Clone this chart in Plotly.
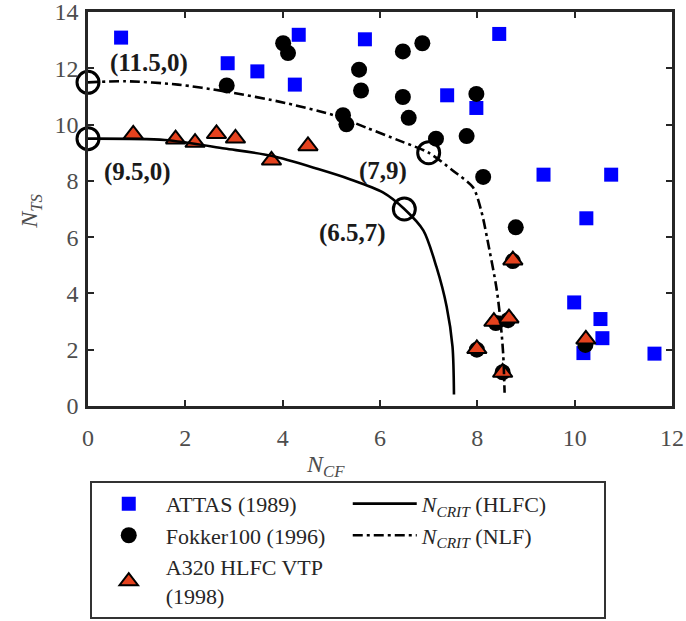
import plotly.graph_objects as go

# ---- flight-test transition data (N_CF, N_TS) ----
attas_ncf = [0.68, 2.87, 3.48, 4.33, 4.25, 5.69, 8.45, 7.38, 7.98, 9.36, 10.75,
             10.24, 9.99, 10.53, 10.57, 10.18, 11.64]
attas_nts = [13.09, 12.18, 11.89, 13.19, 11.42, 13.03, 13.22, 11.04, 10.59, 8.22, 8.22,
             6.67, 3.68, 3.09, 2.41, 1.88, 1.86]

fokker_ncf = [4.01, 4.11, 2.85, 5.24, 5.31, 5.57, 5.61, 6.47, 6.87, 6.47, 6.59, 7.15,
              7.78, 7.98, 8.12, 8.79, 7.99, 8.52, 8.73, 8.38, 8.63, 10.22]
fokker_nts = [12.89, 12.54, 11.39, 10.33, 10.01, 11.95, 11.21, 12.60, 12.89, 10.98, 10.24, 9.50,
              9.59, 11.09, 8.14, 6.35, 2.00, 1.20, 5.15, 2.95, 3.05, 2.17]

a320_ncf = [0.93, 1.80, 2.20, 2.64, 3.03, 3.77, 4.52, 8.73, 8.34, 8.65, 7.99, 8.52, 10.23]
a320_nts = [9.65, 9.48, 9.36, 9.67, 9.51, 8.73, 9.24, 5.18, 3.00, 3.12, 2.03, 1.19, 2.37]

# ---- critical N-factor envelopes ----
hlfc_ncf = [0.0, 1.58, 2.81, 3.77, 4.73, 5.38, 6.06, 6.50, 6.89, 7.16, 7.37, 7.49, 7.52]
hlfc_nts = [9.50, 9.45, 9.15, 8.89, 8.42, 8.06, 7.59, 7.00, 6.24, 4.94, 3.53, 2.11, 0.41]

nlf_ncf = [0.0, 0.76, 1.85, 2.81, 4.05, 5.11, 5.72, 6.41, 7.00, 7.50, 7.91, 8.08, 8.25,
           8.39, 8.46, 8.53, 8.56]
nlf_nts = [11.50, 11.54, 11.42, 11.18, 10.77, 10.30, 9.89, 9.42, 9.00, 8.36, 7.77, 6.94, 5.53,
           4.23, 3.29, 1.88, 0.47]

# ---- highlighted envelope points and their labels ----
crit_ncf = [0.0, 0.0, 7.0, 6.5]
crit_nts = [11.5, 9.5, 9.0, 7.0]
crit_labels = ["(11.5,0)", "(9.5,0)", "(7,9)", "(6.5,7)"]
label_shift = [(61, 19), (49, -33), (-46, -18), (-52, -24)]

x_ticks = [0, 2, 4, 6, 8, 10, 12]
y_ticks = [0, 2, 4, 6, 8, 10, 12, 14]

SERIF = "Liberation Serif, Times New Roman, serif"
AXIS_C = "#262626"
TICK_C = "#4d4d4d"

fig = go.Figure()

fig.add_trace(go.Scatter(
    x=attas_ncf, y=attas_nts, mode="markers", name="ATTAS (1989)",
    marker=dict(symbol="square", size=14, color="#0000ff", line=dict(width=0)),
    legendrank=1))

fig.add_trace(go.Scatter(
    x=fokker_ncf, y=fokker_nts, mode="markers", name="Fokker100 (1996)",
    marker=dict(symbol="circle", size=16, color="#000000", line=dict(width=0)),
    legendrank=3))

fig.add_trace(go.Scatter(
    x=a320_ncf, y=a320_nts, mode="markers", name="A320 HLFC VTP<br>(1998)",
    marker=dict(symbol="triangle-up", size=17, color="#e5421e",
                line=dict(width=2, color="#000000")),
    legendrank=5))

fig.add_trace(go.Scatter(
    x=hlfc_ncf, y=hlfc_nts, mode="lines",
    name="<i>N</i><sub><i>CRIT</i></sub> (HLFC)",
    line=dict(color="#000000", width=2.6, shape="spline", smoothing=0.8),
    legendrank=2))

fig.add_trace(go.Scatter(
    x=nlf_ncf, y=nlf_nts, mode="lines",
    name="<i>N</i><sub><i>CRIT</i></sub> (NLF)",
    line=dict(color="#000000", width=2.6, dash="10px,4px,3px,4px",
              shape="spline", smoothing=0.8),
    legendrank=4))

fig.add_trace(go.Scatter(
    x=crit_ncf, y=crit_nts, mode="markers", showlegend=False, cliponaxis=False,
    marker=dict(symbol="circle-open", size=22, color="#000000", line=dict(width=3))))

for xv, yv, txt, (dx, dy) in zip(crit_ncf, crit_nts, crit_labels, label_shift):
    fig.add_annotation(x=xv, y=yv, text=f"<b>{txt}</b>", showarrow=False,
                       xshift=dx, yshift=dy,
                       font=dict(family=SERIF, size=25, color="#1a1a1a"))

# axis titles
fig.add_annotation(xref="paper", yref="paper", x=0.4075, y=-0.195,
                   text="<i>N</i><sub><i>CF</i></sub>", showarrow=False,
                   font=dict(family=SERIF, size=24, color=TICK_C))
fig.add_annotation(xref="paper", yref="paper", x=-0.127, y=0.495, textangle=-90,
                   text="<i>N</i><sub><i>TS</i></sub>", showarrow=False,
                   font=dict(family=SERIF, size=24, color=TICK_C))

axis_common = dict(showgrid=False, zeroline=False, showline=True, linecolor=AXIS_C,
                   linewidth=2.5, mirror="ticks", ticks="inside", ticklen=6,
                   tickwidth=2, tickcolor=AXIS_C, automargin=False,
                   ticklabeloverflow="allow",
                   tickfont=dict(family=SERIF, size=24, color=TICK_C))

fig.update_xaxes(range=[0, 12], tickvals=x_ticks, ticklabelstandoff=8, **axis_common)
fig.update_yaxes(range=[0, 14], tickvals=y_ticks, ticklabelstandoff=2, **axis_common)

fig.update_layout(
    width=686, height=621,
    margin=dict(l=88, r=14, t=12, b=215, autoexpand=False),
    paper_bgcolor="white", plot_bgcolor="white",
    legend=dict(orientation="h", x=0.003, xanchor="left", y=-0.19, yanchor="top",
                entrywidth=177, itemwidth=64, bgcolor="white",
                bordercolor="#333333", borderwidth=2,
                font=dict(family=SERIF, size=22, color="#262626")),
)

fig.write_html("out.html")
